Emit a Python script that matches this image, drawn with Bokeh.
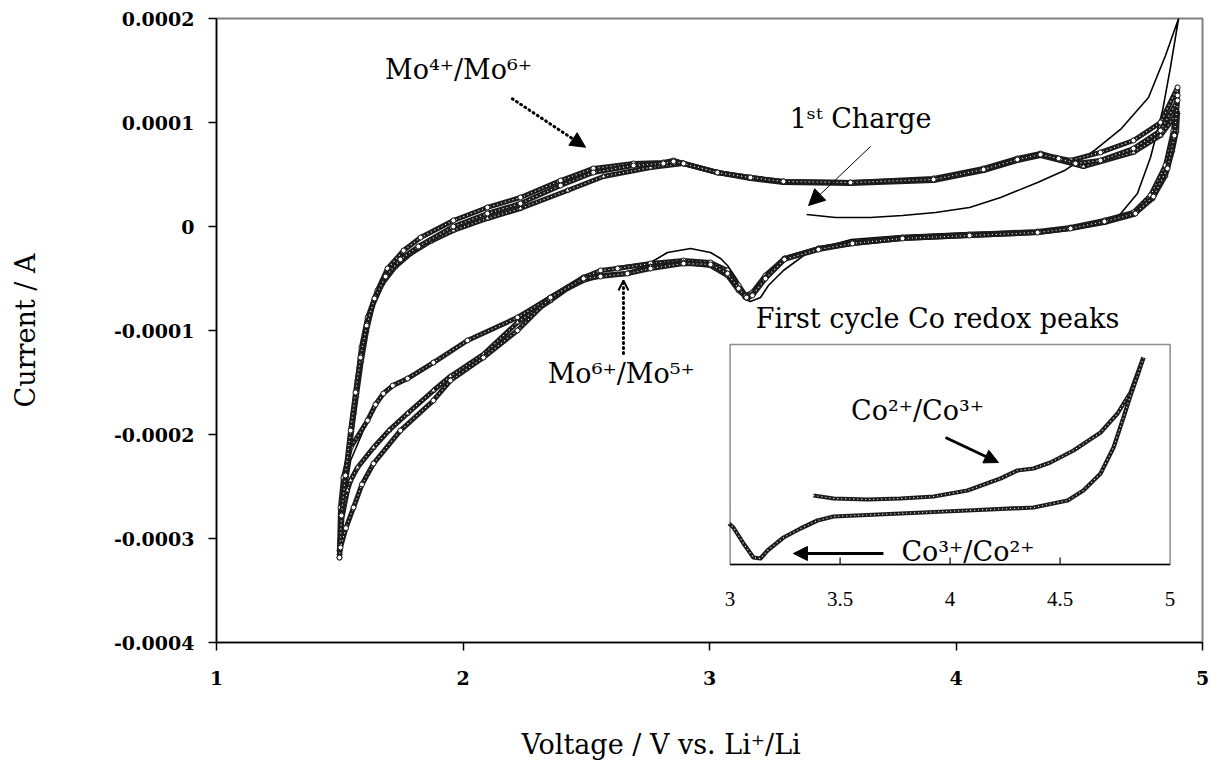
from bokeh.plotting import figure
from bokeh.models import Range1d, FixedTicker, Label, Arrow, NormalHead, OpenHead, Title, LinearAxis
from bokeh.embed import file_html
from bokeh.resources import INLINE
from bokeh.core.properties import value

# ---------------- data ----------------
x_ticks = [1, 2, 3, 4, 5]
x_tick_labels = ["1", "2", "3", "4", "5"]
y_ticks = [-0.0004, -0.0003, -0.0002, -0.0001, 0, 0.0001, 0.0002]
y_tick_labels = ["-0.0004", "-0.0003", "-0.0002", "-0.0001", "0", "0.0001", "0.0002"]

# cycle 1 (first charge from OCV, then first discharge) - solid line
cycle1_v = [3.394, 3.511, 3.653, 3.783, 3.917, 4.055, 4.181, 4.331, 4.440, 4.562, 4.671, 4.781, 4.850, 4.903,
            4.870, 4.838, 4.789, 4.736, 4.655, 4.517, 4.383, 4.055, 3.783, 3.576, 3.410, 3.300, 3.239, 3.207,
            3.166, 3.138, 3.114, 3.073, 3.045, 3.004, 2.923, 2.830, 2.761, 2.627, 2.489, 2.355, 2.221, 2.018,
            1.880, 1.775, 1.677, 1.613, 1.544, 1.511, 1.499]
cycle1_i = [0.115e-4, 0.087e-4, 0.087e-4, 0.106e-4, 0.135e-4, 0.183e-4, 0.279e-4, 0.423e-4, 0.538e-4, 0.731e-4,
            0.942e-4, 1.240e-4, 1.644e-4, 2.000e-4,
            1.529e-4, 1.115e-4, 0.663e-4, 0.317e-4, 0.087e-4, -0.010e-4, -0.038e-4, -0.058e-4, -0.087e-4,
            -0.125e-4, -0.231e-4, -0.423e-4, -0.567e-4, -0.683e-4, -0.721e-4, -0.692e-4, -0.519e-4, -0.375e-4,
            -0.308e-4, -0.250e-4, -0.212e-4, -0.250e-4, -0.346e-4, -0.385e-4, -0.471e-4, -0.663e-4, -0.865e-4,
            -1.096e-4, -1.300e-4, -1.452e-4, -1.606e-4, -1.865e-4, -2.250e-4, -2.731e-4, -3.192e-4]

# cycle 2 (circles)
cycle2_v = [1.499, 1.507, 1.531, 1.556, 1.572, 1.588, 1.613, 1.653, 1.694, 1.759, 1.828, 1.961, 2.099, 2.233,
            2.396, 2.529, 2.692, 2.813, 2.854, 2.895, 3.032, 3.166, 3.300, 3.572, 3.909, 4.112, 4.249, 4.343,
            4.404, 4.465, 4.586, 4.720, 4.830, 4.899,
            4.899, 4.882, 4.850, 4.789, 4.720, 4.602, 4.465, 4.331, 4.055, 3.783, 3.580, 3.442, 3.304, 3.227,
            3.174, 3.146, 3.118, 3.073, 3.004, 2.895, 2.761, 2.627, 2.558, 2.489, 2.424, 2.355, 2.221, 2.018,
            1.880, 1.775, 1.715, 1.677, 1.645, 1.613, 1.544, 1.515, 1.503, 1.499]
cycle2_i = [-3.183e-4, -2.702e-4, -2.279e-4, -1.798e-4, -1.481e-4, -1.163e-4, -0.875e-4, -0.615e-4, -0.404e-4,
            -0.231e-4, -0.106e-4, 0.058e-4, 0.183e-4, 0.279e-4, 0.442e-4, 0.558e-4, 0.606e-4, 0.615e-4,
            0.635e-4, 0.606e-4, 0.519e-4, 0.471e-4, 0.433e-4, 0.423e-4, 0.462e-4, 0.558e-4, 0.654e-4, 0.702e-4,
            0.663e-4, 0.635e-4, 0.712e-4, 0.827e-4, 1.000e-4, 1.337e-4,
            1.260e-4, 0.923e-4, 0.587e-4, 0.298e-4, 0.135e-4, 0.058e-4, -0.010e-4, -0.048e-4, -0.077e-4,
            -0.106e-4, -0.154e-4, -0.212e-4, -0.308e-4, -0.471e-4, -0.635e-4, -0.663e-4, -0.567e-4, -0.423e-4,
            -0.346e-4, -0.327e-4, -0.356e-4, -0.404e-4, -0.423e-4, -0.490e-4, -0.587e-4, -0.683e-4, -0.875e-4,
            -1.096e-4, -1.308e-4, -1.462e-4, -1.530e-4, -1.606e-4, -1.712e-4, -1.865e-4, -2.125e-4, -2.413e-4,
            -2.702e-4, -3.115e-4]

# cycle 3 (triangles)
cycle3_v = [1.499, 1.511, 1.527, 1.548, 1.568, 1.588, 1.609, 1.633, 1.673, 1.726, 1.787, 1.868, 1.961, 2.099,
            2.233, 2.424, 2.570, 2.761, 2.895, 3.032, 3.166, 3.300, 3.572, 3.909, 4.112, 4.249, 4.343, 4.424,
            4.517, 4.720, 4.830, 4.899,
            4.895, 4.878, 4.850, 4.797, 4.720, 4.602, 4.465, 4.331, 4.055, 3.783, 3.580, 3.442, 3.304, 3.227,
            3.174, 3.154, 3.118, 3.073, 3.004, 2.895, 2.761, 2.667, 2.558, 2.489, 2.424, 2.355, 2.221, 2.083,
            1.949, 1.880, 1.775, 1.700, 1.637, 1.572, 1.544, 1.531, 1.507, 1.499]
cycle3_i = [-3.144e-4, -2.731e-4, -2.346e-4, -1.962e-4, -1.625e-4, -1.288e-4, -1.000e-4, -0.760e-4, -0.548e-4,
            -0.385e-4, -0.260e-4, -0.144e-4, -0.038e-4, 0.077e-4, 0.173e-4, 0.346e-4, 0.481e-4, 0.567e-4,
            0.606e-4, 0.519e-4, 0.462e-4, 0.423e-4, 0.413e-4, 0.442e-4, 0.538e-4, 0.635e-4, 0.683e-4, 0.635e-4,
            0.577e-4, 0.712e-4, 0.875e-4, 1.096e-4,
            0.923e-4, 0.731e-4, 0.490e-4, 0.269e-4, 0.115e-4, 0.038e-4, -0.019e-4, -0.058e-4, -0.087e-4,
            -0.115e-4, -0.163e-4, -0.212e-4, -0.308e-4, -0.490e-4, -0.654e-4, -0.692e-4, -0.615e-4, -0.471e-4,
            -0.375e-4, -0.346e-4, -0.385e-4, -0.452e-4, -0.471e-4, -0.519e-4, -0.596e-4, -0.712e-4, -0.923e-4,
            -1.230e-4, -1.440e-4, -1.577e-4, -1.798e-4, -1.960e-4, -2.125e-4, -2.317e-4, -2.442e-4, -2.538e-4,
            -2.827e-4, -3.144e-4]

# cycle 4 (circles)
cycle4_v = [1.499, 1.507, 1.523, 1.544, 1.564, 1.584, 1.609, 1.641, 1.686, 1.746, 1.819, 1.961, 2.099, 2.233,
            2.396, 2.529, 2.692, 2.813, 2.854, 2.895, 3.032, 3.166, 3.300, 3.572, 3.909, 4.112, 4.249, 4.343,
            4.416, 4.485, 4.586, 4.720, 4.830, 4.899,
            4.886, 4.858, 4.801, 4.728, 4.602, 4.465, 4.331, 4.055, 3.783, 3.580, 3.442, 3.304, 3.227, 3.174,
            3.150, 3.118, 3.073, 3.004, 2.895, 2.761, 2.667, 2.558, 2.489, 2.355, 2.221, 2.083, 1.949, 1.880,
            1.746, 1.637, 1.590, 1.556, 1.525, 1.503]
cycle4_i = [-3.183e-4, -2.779e-4, -2.394e-4, -1.962e-4, -1.596e-4, -1.260e-4, -0.952e-4, -0.692e-4, -0.481e-4,
            -0.317e-4, -0.192e-4, 0.000e-4, 0.125e-4, 0.221e-4, 0.394e-4, 0.519e-4, 0.587e-4, 0.606e-4,
            0.625e-4, 0.606e-4, 0.519e-4, 0.471e-4, 0.433e-4, 0.423e-4, 0.452e-4, 0.548e-4, 0.644e-4, 0.692e-4,
            0.654e-4, 0.606e-4, 0.635e-4, 0.750e-4, 0.923e-4, 1.212e-4,
            0.875e-4, 0.558e-4, 0.288e-4, 0.125e-4, 0.048e-4, -0.019e-4, -0.058e-4, -0.087e-4, -0.115e-4,
            -0.163e-4, -0.221e-4, -0.317e-4, -0.500e-4, -0.663e-4, -0.683e-4, -0.596e-4, -0.452e-4, -0.365e-4,
            -0.356e-4, -0.404e-4, -0.452e-4, -0.481e-4, -0.500e-4, -0.683e-4, -1.000e-4, -1.260e-4, -1.481e-4,
            -1.673e-4, -1.962e-4, -2.279e-4, -2.480e-4, -2.702e-4, -2.900e-4, -3.087e-4]

# inset: first cycle Co redox peaks
inset_ticks = [3, 3.5, 4, 4.5, 5]
inset_tick_labels = ["3", "3.5", "4", "4.5", "5"]
inset_charge_v = [3.379, 3.470, 3.625, 3.774, 3.925, 4.079, 4.229, 4.306, 4.379, 4.456, 4.561, 4.684, 4.761,
                  4.820, 4.865, 4.879]
inset_charge_i = [1.9e-5, 1.6e-5, 1.5e-5, 1.6e-5, 1.8e-5, 2.4e-5, 3.6e-5, 4.4e-5, 4.6e-5, 5.2e-5, 6.4e-5,
                  8.2e-5, 10.1e-5, 12.2e-5, 14.9e-5, 15.7e-5]
inset_discharge_v = [4.879, 4.852, 4.820, 4.788, 4.743, 4.684, 4.606, 4.534, 4.379, 4.079, 3.774, 3.470, 3.397,
                     3.320, 3.243, 3.170, 3.138, 3.106, 3.061, 3.015, 2.995]
inset_discharge_i = [15.7e-5, 13.9e-5, 11.9e-5, 9.7e-5, 6.7e-5, 4.1e-5, 2.4e-5, 1.4e-5, 0.7e-5, 0.4e-5, 0.1e-5,
                     -0.2e-5, -0.6e-5, -1.4e-5, -2.3e-5, -3.6e-5, -4.4e-5, -4.3e-5, -2.9e-5, -1.3e-5, -0.9e-5]
inset_x_limits = [3, 5]
inset_y_limits = [-5e-5, 17e-5]

SERIF = "DejaVu Serif"

# ---------------- figure ----------------
p = figure(frame_width=986, frame_height=624,
           min_border_left=216, min_border_right=8, min_border_top=18, min_border_bottom=125,
           x_range=Range1d(1, 5), y_range=Range1d(-0.0004, 0.0002),
           output_backend="svg", toolbar_location=None)
p.grid.visible = False
p.outline_line_color = "#808080"
p.outline_line_width = 2
p.background_fill_color = "white"
p.border_fill_color = "white"

for ax in (p.xaxis[0], p.yaxis[0]):
    ax.axis_line_color = "black"
    ax.axis_line_width = 1.5
    ax.major_tick_line_color = "black"
    ax.major_tick_line_width = 1.5
    ax.major_tick_in = 0
    ax.major_tick_out = 8
    ax.minor_tick_line_color = None
    ax.major_label_text_font = SERIF
    ax.major_label_text_font_style = "bold"
    ax.major_label_text_font_size = "19px"
    ax.major_label_text_color = "black"

p.xaxis.ticker = FixedTicker(ticks=x_ticks)
p.xaxis.major_label_overrides = dict(zip(x_ticks, x_tick_labels))
p.xaxis.major_label_standoff = 20
p.yaxis.ticker = FixedTicker(ticks=y_ticks)
p.yaxis.major_label_overrides = dict(zip(y_ticks, y_tick_labels))
p.yaxis.major_label_standoff = 14
p.yaxis.axis_label = "Current / A"
p.yaxis.axis_label_text_font = SERIF
p.yaxis.axis_label_text_font_size = "27px"
p.yaxis.axis_label_text_font_style = "normal"
p.yaxis.axis_label_text_color = "black"
p.yaxis.axis_label_standoff = 70

# blank spacer axis (one white tick, no label, no line) that pushes the x title further down
spacer = LinearAxis(ticker=FixedTicker(ticks=[3]), axis_line_color=None, major_tick_line_color="white",
                    major_tick_line_width=1, minor_tick_line_color=None, major_tick_in=0, major_tick_out=34,
                    minor_tick_out=0, major_label_overrides={3: ""}, major_label_text_font_size="0px",
                    major_label_standoff=0)
p.add_layout(spacer, "below")

# x-axis title, placed off-centre (left-aligned with an offset) as in the original
x_title = Title(text="Voltage / V vs. Li\u207a/Li", align="left", offset=305, standoff=10,
                text_font=SERIF, text_font_size="27px", text_font_style="normal", text_color="black")
p.add_layout(x_title, "below")

# ---------------- main curves ----------------
p.line(cycle1_v, cycle1_i, line_color="black", line_width=1.6, line_join="round")


def chain(v, i, marker, x_range_name="default", y_range_name="default", width=5.0):
    p.line(v, i, line_color="#1c1c1c", line_width=width, line_join="round",
           x_range_name=x_range_name, y_range_name=y_range_name)
    p.line(v, i, line_color="white", line_width=1.1, line_dash="1 3", line_join="round",
           x_range_name=x_range_name, y_range_name=y_range_name)
    if marker:
        p.scatter(v, i, marker=marker, size=5, fill_color="white", line_color="#111111", line_width=1,
                  x_range_name=x_range_name, y_range_name=y_range_name)


chain(cycle2_v, cycle2_i, "circle")
chain(cycle3_v, cycle3_i, "triangle")
chain(cycle4_v, cycle4_i, "circle")

# ---------------- inset ----------------
p.extra_x_ranges = {"inset_x": Range1d(0.66545, 5.14727)}
p.extra_y_ranges = {"inset_y": Range1d(-1.28e-4, 4.96e-4)}
IX, IY = "inset_x", "inset_y"

p.quad(left=[inset_x_limits[0]], right=[inset_x_limits[1]], bottom=[inset_y_limits[0]], top=[inset_y_limits[1]],
       fill_color="white", line_color="#8c8c8c", line_width=1.5, x_range_name=IX, y_range_name=IY)
p.segment(x0=[inset_x_limits[0]], x1=[inset_x_limits[1]], y0=[inset_y_limits[0]], y1=[inset_y_limits[0]],
          line_color="black", line_width=1.5, x_range_name=IX, y_range_name=IY)
inner_ticks = inset_ticks[1:-1]
p.segment(x0=inner_ticks, x1=inner_ticks, y0=[inset_y_limits[0]] * len(inner_ticks),
          y1=[inset_y_limits[0] + 7e-6] * len(inner_ticks),
          line_color="black", line_width=1.2, x_range_name=IX, y_range_name=IY)
p.text(x=inset_ticks, y=[-8.4e-5] * len(inset_ticks), text=inset_tick_labels,
       text_font=value("Liberation Serif"), text_font_size="21px", text_align="center",
       text_baseline="middle", text_color="black", x_range_name=IX, y_range_name=IY)

chain(inset_charge_v, inset_charge_i, None, IX, IY, width=4.2)
chain(inset_discharge_v, inset_discharge_i, None, IX, IY, width=4.2)

# ---------------- annotations ----------------
def lab(x, y, text, **kw):
    p.add_layout(Label(x=x, y=y, text=text, text_align="center", text_baseline="middle",
                       text_font=SERIF, text_font_size="27px", text_color="black", **kw))


lab(1.982, 1.51e-4, "Mo\u2074\u207a/Mo\u2076\u207a")
lab(3.613, 1.038e-4, "1\u02e2\u1d57 Charge")
lab(2.642, -1.409e-4, "Mo\u2076\u207a/Mo\u2075\u207a")
lab(3.925, -0.885e-4, "First cycle Co redox peaks")
lab(3.852, 10.4e-5, "Co\u00b2\u207a/Co\u00b3\u207a", x_range_name=IX, y_range_name=IY)
lab(4.081, -3.7e-5, "Co\u00b3\u207a/Co\u00b2\u207a", x_range_name=IX, y_range_name=IY)

p.add_layout(Arrow(x_start=2.200, y_start=1.228e-4, x_end=2.497, y_end=0.762e-4,
                   line_color="black", line_width=3, line_dash="1 4", line_cap="round",
                   end=NormalHead(size=15, fill_color="black", line_color="black")))
p.add_layout(Arrow(x_start=3.653, y_start=0.769e-4, x_end=3.402, y_end=0.202e-4,
                   line_color="black", line_width=1,
                   end=NormalHead(size=16, fill_color="black", line_color="black")))
p.add_layout(Arrow(x_start=2.651, y_start=-1.221e-4, x_end=2.651, y_end=-0.519e-4,
                   line_color="black", line_width=3, line_dash="1 4", line_cap="round",
                   end=OpenHead(size=10, line_color="black", line_width=2)))
p.add_layout(Arrow(x_start=3.979, y_start=7.7e-5, x_end=4.220, y_end=5.2e-5,
                   line_color="black", line_width=3, x_range_name=IX, y_range_name=IY,
                   end=NormalHead(size=14, fill_color="black", line_color="black")))
p.add_layout(Arrow(x_start=3.697, y_start=-3.9e-5, x_end=3.288, y_end=-3.9e-5,
                   line_color="black", line_width=3, x_range_name=IX, y_range_name=IY,
                   end=NormalHead(size=14, fill_color="black", line_color="black")))

open("out.html", "w").write(file_html(p, INLINE))
